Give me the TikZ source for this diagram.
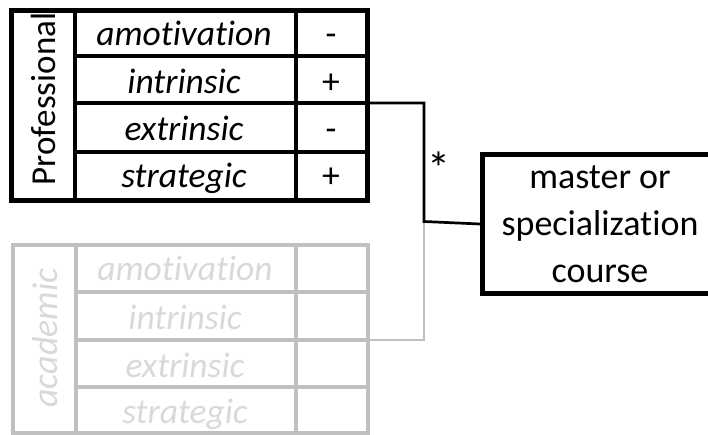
\documentclass[tikz,border=0pt]{standalone}
\usepackage{fontspec}
\setmainfont{Carlito}[Ligatures=NoCommon]
\definecolor{gline}{RGB}{191,191,191}
\definecolor{gtext}{RGB}{217,217,217}
\begin{document}
\begin{tikzpicture}[x=1pt,y=-1pt,
  txt/.style={font=\fontsize{35.5}{40}\selectfont, inner sep=0pt, anchor=base},
  itxt/.style={txt, font=\fontsize{35.5}{40}\selectfont\itshape},
  outer/.style={line width=5pt},
  divider/.style={line width=4.5pt},
  rowline/.style={line width=4pt},
  conn/.style={line width=2.7pt},
  gridg/.style={line width=3.3pt, draw=gline},
  connG/.style={line width=2.7pt, draw=gline}]
\useasboundingbox (0,0) rectangle (708,434);
\clip (0,0) rectangle (708,434);
\fill[white] (0,0) rectangle (708,434);

% ---------- grey (academic) table ----------
\draw[gridg] (13,245) rectangle (368,433);
\draw[gridg] (76,245) -- (76,433);
\draw[gridg] (296,245) -- (296,433);
\draw[gridg] (76,292) -- (368,292);
\draw[gridg] (76,340) -- (368,340);
\draw[gridg] (76,387) -- (368,387);
\node[itxt, text=gtext, rotate=90, anchor=center, font=\fontsize{36}{40}\selectfont\itshape] (acad) at (45,338) {academic};
\node[itxt, text=gtext] (ga) at (185,280) {amotivation};
\node[itxt, text=gtext] (gi) at (185,329) {intrinsic};
\node[itxt, text=gtext] (ge) at (185,377) {extrinsic};
\node[itxt, text=gtext] (gs) at (185,423) {strategic};
\coordinate (aR) at (368,340);

% ---------- black (professional) table ----------
\draw[rowline] (75,55.5) -- (367,55.5);
\draw[rowline] (75,103) -- (367,103);
\draw[rowline] (75,152) -- (367,152);
\draw[divider] (75,10) -- (75,200);
\draw[divider] (296,10) -- (296,200);
\draw[outer] (11,10) rectangle (367,200);
\node[txt, rotate=90, anchor=center, font=\fontsize{35}{40}\selectfont] (prof) at (43,99) {Professional};
\node[itxt] (pa) at (184,45) {amotivation};
\node[itxt] (pi) at (184,93) {intrinsic};
\node[itxt] (pe) at (184,140) {extrinsic};
\node[itxt] (ps) at (184,187) {strategic};
\node[txt] (sa) at (331,45) {-};
\node[txt] (si) at (331,93) {+};
\node[txt] (se) at (331,140) {-};
\node[txt] (ss) at (331,187) {+};
\coordinate (pR) at (367,103);

% ---------- course box ----------
\node[draw, line width=5pt, minimum width=235pt, minimum height=139pt,
      anchor=north west, inner sep=0pt, align=center,
      font=\fontsize{36}{47}\selectfont] (course) at (480,152)
      {master or\\specialization\\course};

% ---------- connectors ----------
\coordinate (j) at (424,221.5);
\draw[connG] (j) -- (j |- aR) -- (aR);
\draw[conn] (pR) -- (pR -| j) -- (j) -- (course.west);
\node[txt, font=\fontsize{46}{50}\selectfont] (star) at (439,184) {*};
\end{tikzpicture}
\end{document}
